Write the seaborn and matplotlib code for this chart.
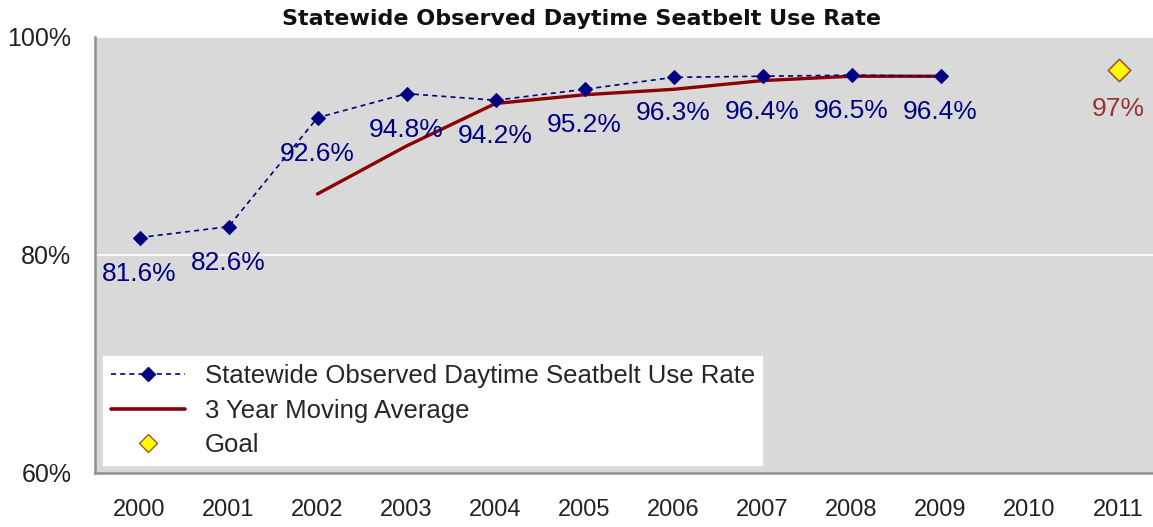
import matplotlib
matplotlib.use("Agg")
import matplotlib.pyplot as plt
import numpy as np
import pandas as pd
import seaborn as sns
from matplotlib.lines import Line2D
from matplotlib.ticker import FixedLocator, FuncFormatter

# Values
years = [2000, 2001, 2002, 2003, 2004, 2005, 2006, 2007, 2008, 2009]
use_rate = [81.6, 82.6, 92.6, 94.8, 94.2, 95.2, 96.3, 96.4, 96.5, 96.4]
avg_years = [2002, 2003, 2004, 2005, 2006, 2007, 2008, 2009]
moving_avg = [85.6, 90.0, 93.9, 94.7, 95.2, 96.0, 96.4, 96.4]
goal_year = [2011]
goal_value = [97]
all_years = list(range(2000, 2012))

NAVY = "#000080"
DARK_RED = "#8B0000"
GOAL_RED = "#993333"

sns.set_theme(style="white")
plt.rcParams["font.family"] = ["Liberation Sans", "DejaVu Sans"]

rate_df = pd.DataFrame({"year": years, "rate": use_rate})
avg_df = pd.DataFrame({"year": avg_years, "avg": moving_avg})
goal_df = pd.DataFrame({"year": goal_year, "goal": goal_value})

fig = plt.figure(figsize=(11.53, 5.27), dpi=100)
# plot area runs past the right edge of the image, as in the reference
ax = fig.add_axes([0.0824, 0.1025, 0.9263, 0.8273])
ax.set_facecolor("#D9D9D9")

sns.lineplot(data=avg_df, x="year", y="avg", color=DARK_RED, linewidth=2.4, ax=ax, zorder=2)
sns.lineplot(data=rate_df, x="year", y="rate", color=NAVY, linewidth=1.2,
             linestyle=(0, (3, 2.5)), marker="D", markersize=7, markeredgecolor=NAVY,
             ax=ax, zorder=3)
sns.scatterplot(data=goal_df, x="year", y="goal", marker="D", s=130, color="#FFFF00",
                edgecolor="#B0502A", linewidth=1.2, ax=ax, zorder=4)

for x, y in zip(years, use_rate):
    ax.annotate(f"{y:.1f}%", (x, y), xytext=(0, -26), textcoords="offset points",
                ha="center", va="center", color=NAVY, fontsize=19)
for x, y in zip(goal_year, goal_value):
    ax.annotate(f"{y}%", (x, y), xytext=(0, -28), textcoords="offset points",
                ha="center", va="center", color=GOAL_RED, fontsize=19)

ax.set_xlim(1999.5, 2011.5)
ax.set_ylim(60, 100)
ax.set_xticks(all_years)
ax.set_xticklabels([str(y) for y in all_years], fontsize=17, color="#222222")
ax.xaxis.set_minor_locator(FixedLocator(np.arange(1999.5, 2012, 1)))
ax.tick_params(axis="x", which="major", length=0, pad=19)
ax.tick_params(axis="x", which="minor", length=8, width=1.2, color="#909090", direction="out")
ax.set_yticks([60, 80, 100])
ax.yaxis.set_major_formatter(FuncFormatter(lambda v, p: f"{v:.0f}%"))
ax.tick_params(axis="y", length=0, pad=17, labelsize=18, labelcolor="#222222")
for v in [80, 100]:
    ax.axhline(v, color="white", linewidth=1.2, zorder=1)

for side in ["top", "right"]:
    ax.spines[side].set_visible(False)
for side in ["left", "bottom"]:
    ax.spines[side].set_color("#909090")
    ax.spines[side].set_linewidth(1.8)

ax.set_xlabel("")
ax.set_ylabel("")
fig.text(581 / 1153, 1 - 19 / 527, "Statewide Observed Daytime Seatbelt Use Rate",
         fontsize=16, fontweight="bold", family="DejaVu Sans", ha="center", va="center",
         color="#111111")

handles = [
    Line2D([], [], color=NAVY, linewidth=1.2, linestyle=(0, (3, 2.5)), marker="D", markersize=7),
    Line2D([], [], color=DARK_RED, linewidth=2.6),
    Line2D([], [], linestyle="", marker="D", markersize=9, markerfacecolor="#FFFF00",
           markeredgecolor="#B0502A"),
]
labels = ["Statewide Observed Daytime Seatbelt Use Rate", "3 Year Moving Average", "Goal"]
leg = ax.legend(handles, labels, loc="lower left", bbox_to_anchor=(0.0075, 0.018),
                fontsize=18.5, frameon=True, fancybox=False, framealpha=1,
                handlelength=2.9, handletextpad=0.75, borderpad=0.3, labelspacing=0.42,
                borderaxespad=0)
leg.get_frame().set_facecolor("white")
leg.get_frame().set_edgecolor("white")

fig.savefig("out.png", dpi=100)
